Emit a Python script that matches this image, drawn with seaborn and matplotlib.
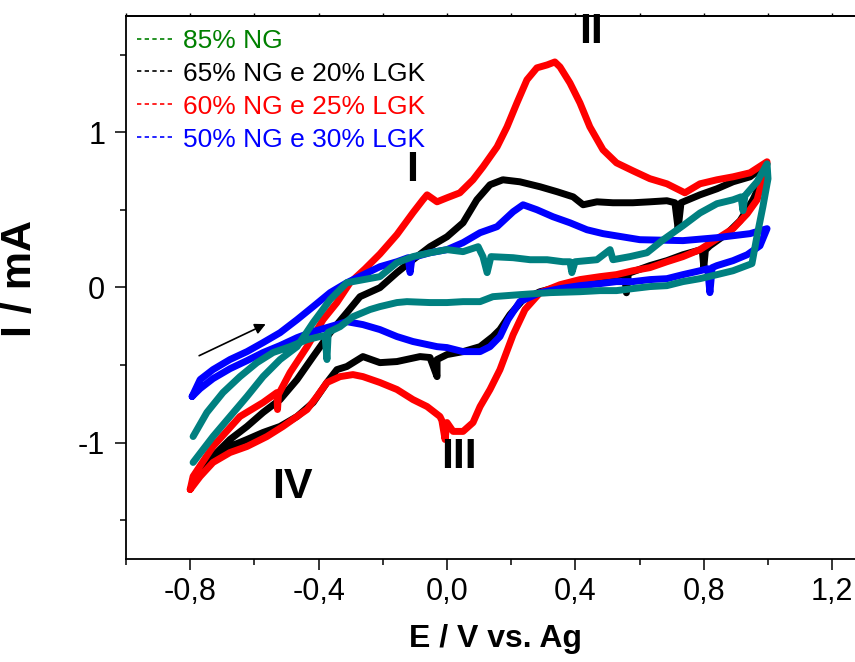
import matplotlib
matplotlib.use("Agg")
import matplotlib.pyplot as plt
from matplotlib.lines import Line2D
from matplotlib.ticker import MultipleLocator, FixedLocator, FixedFormatter
import seaborn as sns

# Cyclic voltammograms, potential E (V vs. Ag) and current I (mA)
# Forward scan from -0.8 V to 1.0 V, then the reverse scan back.

# 60% NG e 25% LGK
e_60 = [-0.800, -0.791, -0.729, -0.645, -0.573, -0.530, -0.528, -0.525, -0.489, -0.436,
        -0.386, -0.343, -0.302, -0.255, -0.209, -0.156, -0.106, -0.075, -0.062, -0.031,
        0.000, 0.040, 0.081, 0.112, 0.156, 0.187, 0.218, 0.249, 0.280, 0.312,
        0.336, 0.352, 0.383, 0.414, 0.445, 0.486, 0.528, 0.579, 0.632, 0.685,
        0.741, 0.788, 0.841, 0.891, 0.944, 0.997,
        0.984, 0.966, 0.935, 0.891, 0.841, 0.788, 0.735, 0.685, 0.632, 0.579,
        0.528, 0.477, 0.414, 0.352, 0.290, 0.243, 0.206, 0.165, 0.134, 0.103,
        0.081, 0.050, 0.019, 0.000, -0.006, -0.016, -0.022, -0.062, -0.106, -0.156,
        -0.209, -0.262, -0.293, -0.333, -0.374, -0.405, -0.436, -0.467, -0.511, -0.561,
        -0.623, -0.676, -0.729, -0.769, -0.800]
i_60 = [-1.302, -1.218, -1.025, -0.832, -0.742, -0.678, -0.787, -0.690, -0.549, -0.382,
        -0.208, -0.098, 0.030, 0.120, 0.215, 0.340, 0.481, 0.564, 0.596, 0.551,
        0.577, 0.609, 0.693, 0.776, 0.905, 1.034, 1.189, 1.337, 1.414, 1.433,
        1.452, 1.420, 1.317, 1.189, 1.034, 0.886, 0.802, 0.751, 0.700, 0.667,
        0.609, 0.667, 0.693, 0.712, 0.738, 0.809,
        0.700, 0.564, 0.474, 0.378, 0.313, 0.243, 0.198, 0.165, 0.127, 0.107,
        0.082, 0.069, 0.050, 0.017, -0.034, -0.143, -0.305, -0.530, -0.658, -0.768,
        -0.871, -0.928, -0.928, -0.871, -0.980, -0.858, -0.832, -0.768, -0.723, -0.658,
        -0.613, -0.575, -0.562, -0.575, -0.613, -0.703, -0.787, -0.832, -0.896, -0.961,
        -1.025, -1.064, -1.128, -1.218, -1.302]

# 65% NG e 20% LGK
e_65 = [-0.791, -0.769, -0.729, -0.676, -0.623, -0.573, -0.520, -0.467, -0.417, -0.364,
        -0.312, -0.271, -0.209, -0.156, -0.106, -0.053, 0.000, 0.050, 0.093, 0.134,
        0.174, 0.227, 0.290, 0.343, 0.393, 0.424, 0.467, 0.517, 0.579, 0.632,
        0.685, 0.710, 0.720, 0.729, 0.788, 0.841, 0.891, 0.944, 0.997,
        0.984, 0.953, 0.913, 0.872, 0.819, 0.805, 0.800, 0.795, 0.735, 0.685,
        0.632, 0.565, 0.559, 0.553, 0.528, 0.477, 0.414, 0.352, 0.290, 0.237,
        0.196, 0.165, 0.143, 0.103, 0.050, 0.000, -0.031, -0.031, -0.053, -0.084,
        -0.156, -0.209, -0.262, -0.312, -0.343, -0.374, -0.417, -0.467, -0.520, -0.573,
        -0.623, -0.676, -0.729, -0.769, -0.791]
i_65 = [-1.250, -1.192, -1.089, -0.980, -0.896, -0.806, -0.723, -0.594, -0.446, -0.292,
        -0.163, -0.060, -0.002, 0.095, 0.178, 0.262, 0.326, 0.416, 0.564, 0.661,
        0.693, 0.680, 0.648, 0.616, 0.583, 0.532, 0.551, 0.545, 0.545, 0.551,
        0.558, 0.545, 0.378, 0.545, 0.596, 0.635, 0.680, 0.712, 0.796,
        0.700, 0.564, 0.429, 0.346, 0.268, 0.240, 0.130, 0.245, 0.210, 0.172,
        0.140, 0.090, -0.035, 0.090, 0.069, 0.056, 0.030, 0.005, -0.028, -0.079,
        -0.176, -0.272, -0.317, -0.382, -0.414, -0.433, -0.465, -0.575, -0.452, -0.446,
        -0.478, -0.485, -0.446, -0.510, -0.530, -0.613, -0.742, -0.832, -0.896, -0.935,
        -0.980, -1.025, -1.109, -1.192, -1.237]

# 50% NG e 30% LGK
e_50 = [-0.794, -0.769, -0.729, -0.676, -0.623, -0.573, -0.520, -0.467, -0.417, -0.364,
        -0.312, -0.209, -0.156, -0.121, -0.115, -0.109, -0.053, 0.000, 0.050, 0.103,
        0.156, 0.206, 0.237, 0.280, 0.330, 0.383, 0.436, 0.486, 0.601, 0.735,
        0.841, 0.944, 0.997,
        0.975, 0.935, 0.891, 0.841, 0.826, 0.819, 0.812, 0.788, 0.735, 0.685,
        0.632, 0.579, 0.528, 0.477, 0.414, 0.352, 0.290, 0.227, 0.190, 0.165,
        0.134, 0.103, 0.050, 0.000, -0.031, -0.106, -0.156, -0.209, -0.262, -0.312,
        -0.364, -0.417, -0.467, -0.520, -0.573, -0.623, -0.676, -0.729, -0.769, -0.794]
i_50 = [-0.703, -0.594, -0.530, -0.465, -0.414, -0.356, -0.292, -0.208, -0.124, -0.034,
        0.030, 0.133, 0.165, 0.191, 0.095, 0.191, 0.223, 0.243, 0.288, 0.352,
        0.391, 0.487, 0.532, 0.500, 0.455, 0.416, 0.371, 0.346, 0.307, 0.301,
        0.320, 0.346, 0.378,
        0.268, 0.210, 0.172, 0.140, 0.127, -0.034, 0.120, 0.107, 0.082, 0.056,
        0.050, 0.037, 0.037, 0.024, 0.011, -0.008, -0.034, -0.092, -0.208, -0.317,
        -0.382, -0.414, -0.414, -0.388, -0.382, -0.349, -0.317, -0.272, -0.240, -0.221,
        -0.253, -0.285, -0.324, -0.375, -0.420, -0.472, -0.524, -0.588, -0.652, -0.703]

# 85% NG
e_85 = [-0.791, -0.729, -0.676, -0.623, -0.573, -0.520, -0.467, -0.417, -0.364, -0.312,
        -0.209, -0.156, -0.106, -0.053, 0.000, 0.050, 0.097, 0.112, 0.125, 0.137,
        0.206, 0.259, 0.312, 0.361, 0.383, 0.389, 0.399, 0.467, 0.508, 0.517,
        0.570, 0.623, 0.673, 0.735, 0.788, 0.841, 0.891, 0.916, 0.922, 0.928,
        0.966, 0.997,
        1.000, 0.984, 0.966, 0.950, 0.891, 0.841, 0.788, 0.735, 0.685, 0.632,
        0.579, 0.528, 0.477, 0.414, 0.321, 0.227, 0.143, 0.103, 0.050, 0.000,
        -0.053, -0.125, -0.156, -0.209, -0.240, -0.293, -0.333, -0.370, -0.374, -0.380,
        -0.396, -0.436, -0.489, -0.542, -0.592, -0.645, -0.698, -0.748, -0.791]
i_85 = [-1.128, -0.961, -0.832, -0.703, -0.575, -0.465, -0.382, -0.227, -0.079, 0.030,
        0.069, 0.159, 0.198, 0.223, 0.243, 0.230, 0.262, 0.198, 0.095, 0.198,
        0.191, 0.178, 0.178, 0.165, 0.165, 0.095, 0.165, 0.178, 0.243, 0.178,
        0.198, 0.223, 0.306, 0.397, 0.479, 0.539, 0.564, 0.583, 0.494, 0.590,
        0.680, 0.796,
        0.700, 0.519, 0.333, 0.153, 0.107, 0.082, 0.056, 0.037, 0.011, 0.005,
        -0.008, -0.021, -0.021, -0.028, -0.034, -0.047, -0.060, -0.092, -0.092, -0.098,
        -0.098, -0.092, -0.098, -0.124, -0.143, -0.189, -0.253, -0.290, -0.465, -0.310,
        -0.317, -0.337, -0.382, -0.420, -0.485, -0.575, -0.678, -0.806, -0.961]

labels = ["85% NG", "65% NG e 20% LGK", "60% NG e 25% LGK", "50% NG e 30% LGK"]
legend_colors = ["#008000", "#000000", "#ff0000", "#0000ff"]
curve_colors = {"85": "#008080", "65": "#000000", "60": "#ff0000", "50": "#0000ff"}

x_major = [-0.8, -0.4, 0.0, 0.4, 0.8, 1.2]
x_labels = ["-0,8", "-0,4", "0,0", "0,4", "0,8", "1,2"]
y_major = [-1, 0, 1]
y_labels = ["-1", "0", "1"]

sns.set_theme(style="ticks")
plt.rcParams["font.family"] = ["Liberation Sans", "DejaVu Sans"]
plt.rcParams["axes.unicode_minus"] = False
for key in ["text.color", "axes.labelcolor", "xtick.color", "ytick.color", "axes.edgecolor"]:
    plt.rcParams[key] = "black"

fig = plt.figure(figsize=(8.55, 6.62), dpi=100)
ax = fig.add_axes([0.14737, 0.15559, 0.86351, 0.82069])

lw = 5.0
style = dict(sort=False, estimator=None, lw=lw, ax=ax,
             solid_capstyle="round", solid_joinstyle="round")
sns.lineplot(x=e_65, y=i_65, color=curve_colors["65"], **style)
sns.lineplot(x=e_60, y=i_60, color=curve_colors["60"], **style)
sns.lineplot(x=e_50, y=i_50, color=curve_colors["50"], **style)
sns.lineplot(x=e_85, y=i_85, color=curve_colors["85"], **style)

ax.set_xlim(-1.0, 1.3)
ax.set_ylim(-1.75, 1.75)

ax.xaxis.set_major_locator(FixedLocator(x_major))
ax.xaxis.set_major_formatter(FixedFormatter(x_labels))
ax.xaxis.set_minor_locator(MultipleLocator(0.2))
ax.yaxis.set_major_locator(FixedLocator(y_major))
ax.yaxis.set_major_formatter(FixedFormatter(y_labels))
ax.yaxis.set_minor_locator(MultipleLocator(0.5))

ax.tick_params(which="major", direction="out", length=8, width=1.1, labelsize=22,
               pad=5, colors="black")
ax.tick_params(which="minor", direction="out", length=4, width=1.1, colors="black")
ax.tick_params(axis="y", which="major", pad=7)

top = ax.secondary_xaxis("top")
top.xaxis.set_major_locator(MultipleLocator(0.2))
top.tick_params(direction="out", length=2.5, width=1.0, labeltop=False, colors="black")
top.set_xticklabels([])

for s in ["left", "bottom", "top", "right"]:
    ax.spines[s].set_linewidth(1.3)
    ax.spines[s].set_color("black")
top.spines["top"].set_linewidth(1.3)

ax.set_xlabel("E / V vs. Ag", fontsize=23, fontweight="bold", labelpad=12)
ax.set_ylabel("I / mA", fontsize=31, fontweight="bold")
ax.yaxis.set_label_coords(-0.117, 0.517)

handles = [Line2D([], [], color=c, lw=1.2, linestyle=(0, (2.6, 2.0))) for c in legend_colors]
leg = ax.legend(handles, labels, loc="upper left", bbox_to_anchor=(0.0145, 0.976),
                frameon=False, fontsize=19, handlelength=1.33, handletextpad=0.42,
                labelspacing=0.34, borderpad=0, borderaxespad=0)
for txt, c in zip(leg.get_texts(), legend_colors):
    txt.set_color(c)

# peak labels
for name, xe, yi in [("I", -0.109, 0.755), ("II", 0.449, 1.645),
                     ("III", 0.037, -1.09), ("IV", -0.483, -1.285)]:
    ax.text(xe, yi, name, fontsize=31, fontweight="bold", ha="center", va="center")

# scan direction
ax.annotate("", xy=(-0.557, -0.229), xytext=(-0.780, -0.448),
            arrowprops=dict(arrowstyle="-|>", color="black", lw=1.2, mutation_scale=16))

fig.savefig("out.png", dpi=100)
